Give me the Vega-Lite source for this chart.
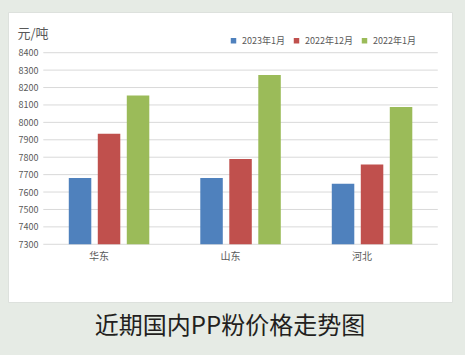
{
  "$schema": "https://vega.github.io/schema/vega-lite/v6.json",
  "autosize": "none",
  "width": 444,
  "height": 290,
  "padding": {"left": 8, "top": 12, "right": 13, "bottom": 53},
  "background": "#e6ebe5",
  "config": {
    "font": "Noto Sans CJK SC",
    "view": {"fill": "#ffffff", "stroke": "#dde1dd", "strokeWidth": 1},
    "axisY": {"labelOverlap": false},
    "axis": {"labelOverlap": false}
  },
  "title": {
    "text": "近期国内PP粉价格走势图",
    "orient": "bottom",
    "anchor": "middle",
    "fontSize": 24,
    "fontWeight": "normal",
    "color": "#231f20",
    "font": "Noto Sans CJK SC",
    "offset": 13
  },
  "datasets": {
    "prices": [
      {"region": "华东", "series": "2023年1月", "value": 7680},
      {"region": "华东", "series": "2022年12月", "value": 7934},
      {"region": "华东", "series": "2022年1月", "value": 8155},
      {"region": "山东", "series": "2023年1月", "value": 7680},
      {"region": "山东", "series": "2022年12月", "value": 7789},
      {"region": "山东", "series": "2022年1月", "value": 8272},
      {"region": "河北", "series": "2023年1月", "value": 7647},
      {"region": "河北", "series": "2022年12月", "value": 7758},
      {"region": "河北", "series": "2022年1月", "value": 8088}
    ],
    "grid": [
      {"tick": 7300}, {"tick": 7400}, {"tick": 7500}, {"tick": 7600},
      {"tick": 7700}, {"tick": 7800}, {"tick": 7900}, {"tick": 8000},
      {"tick": 8100}, {"tick": 8200}, {"tick": 8300}, {"tick": 8400}
    ]
  },
  "layer": [
    {
      "data": {"name": "grid"},
      "mark": {"type": "rule", "color": "#d9d9d9", "strokeWidth": 1},
      "encoding": {
        "x": {"datum": "华东", "type": "nominal", "bandPosition": 0},
        "x2": {"datum": "河北", "bandPosition": 1},
        "y": {
          "field": "tick",
          "type": "quantitative",
          "axis": {
            "values": [7300, 7400, 7500, 7600, 7700, 7800, 7900, 8000, 8100, 8200, 8300, 8400],
            "format": "d",
            "offset": -35,
            "grid": false,
            "domain": false,
            "ticks": false,
            "labelOverlap": false,
            "labelFontSize": 9,
            "labelColor": "#595959",
            "labelPadding": 5,
            "title": "元/吨",
            "titleAngle": 0,
            "titleAlign": "left",
            "titleBaseline": "alphabetic",
            "titleX": -26,
            "titleY": 25,
            "titleFontSize": 13,
            "titleFontWeight": "normal",
            "titleColor": "#595959"
          }
        }
      }
    },
    {
      "data": {"name": "prices"},
      "mark": {"type": "bar"},
      "encoding": {
        "x": {
          "field": "region",
          "type": "nominal",
          "sort": ["华东", "山东", "河北"],
          "scale": {"domain": ["华东", "山东", "河北"], "paddingInner": 0, "paddingOuter": 0.1882, "align": 0.713, "round": false},
          "axis": {
            "title": null,
            "orient": "bottom",
            "offset": -58,
            "domain": false,
            "ticks": false,
            "labelAngle": 0,
            "labelFontSize": 10,
            "labelColor": "#595959",
            "labelPadding": 12
          }
        },
        "xOffset": {
          "field": "series",
          "type": "nominal",
          "scale": {"domain": ["2023年1月", "2022年12月", "2022年1月"], "paddingInner": 0.224, "paddingOuter": 0.879}
        },
        "y": {
          "field": "value",
          "type": "quantitative",
          "scale": {"domain": [6968.7, 8633.7], "nice": false, "zero": false},
          "axis": {
            "values": [7300, 7400, 7500, 7600, 7700, 7800, 7900, 8000, 8100, 8200, 8300, 8400],
            "format": "d",
            "offset": -35,
            "grid": false,
            "domain": false,
            "ticks": false,
            "labelOverlap": false,
            "labelFontSize": 9,
            "labelColor": "#595959",
            "labelPadding": 5,
            "title": "元/吨",
            "titleAngle": 0,
            "titleAlign": "left",
            "titleBaseline": "alphabetic",
            "titleX": -26,
            "titleY": 25,
            "titleFontSize": 13,
            "titleFontWeight": "normal",
            "titleColor": "#595959"
          }
        },
        "y2": {"datum": 7300},
        "color": {
          "field": "series",
          "type": "nominal",
          "scale": {"domain": ["2023年1月", "2022年12月", "2022年1月"], "range": ["#4f81bd", "#c0504d", "#9bbb59"]},
          "legend": {
            "title": null,
            "orient": "none",
            "direction": "horizontal",
            "legendX": 221,
            "legendY": 24,
            "symbolType": "square",
            "symbolSize": 30,
            "symbolStrokeWidth": 0,
            "labelFontSize": 9,
            "labelColor": "#595959",
            "labelOffset": 4,
            "columnPadding": 7
          }
        }
      }
    }
  ]
}
